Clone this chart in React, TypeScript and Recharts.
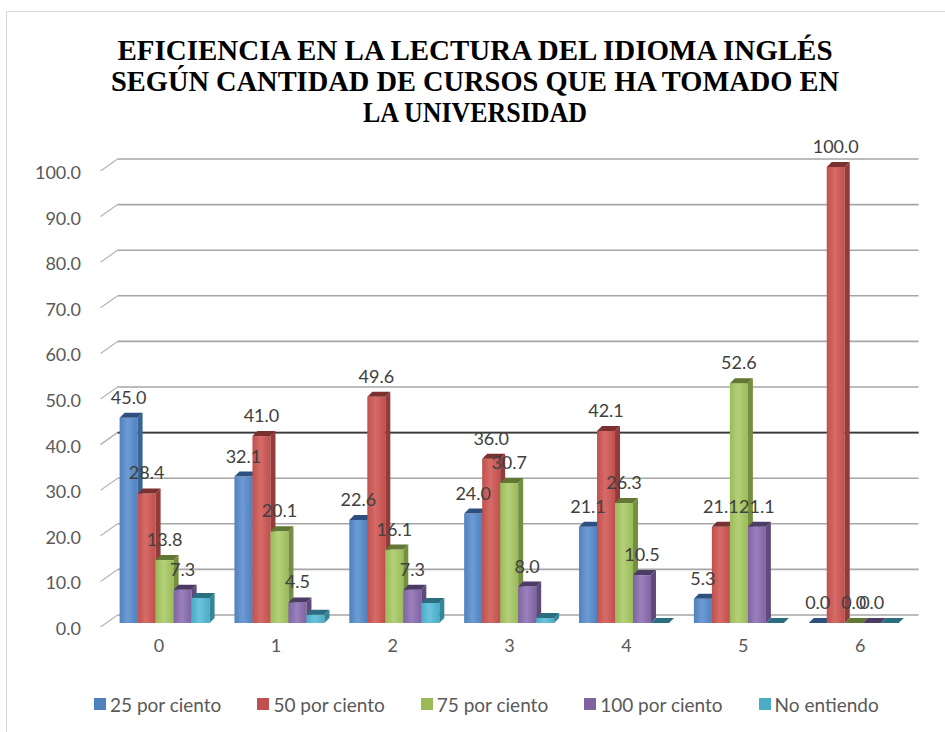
import React from 'react';
import { BarChart, Bar, XAxis, YAxis, CartesianGrid, LabelList } from 'recharts';

const categories = ['0', '1', '2', '3', '4', '5', '6'];
const s25 = [45.0, 32.1, 22.6, 24.0, 21.1, 5.3, 0.0];
const s50 = [28.4, 41.0, 49.6, 36.0, 42.1, 21.1, 100.0];
const s75 = [13.8, 20.1, 16.1, 30.7, 26.3, 52.6, 0.0];
const s100 = [7.3, 4.5, 7.3, 8.0, 10.5, 21.1, 0.0];
const sNo = [5.5, 1.8, 4.4, 1.1, 0.0, 0.0, 0.0];
const seriesNames = ['25 por ciento', '50 por ciento', '75 por ciento', '100 por ciento', 'No entiendo'];
const yTicks = [0, 10, 20, 30, 40, 50, 60, 70, 80, 90, 100];
const titleLines = [
  'EFICIENCIA EN LA LECTURA DEL IDIOMA INGLÉS',
  'SEGÚN CANTIDAD DE CURSOS QUE HA TOMADO EN',
  'LA UNIVERSIDAD',
];
const titleWidths = [715, 728, 224];

const seriesValues = [s25, s50, s75, s100, sNo];
const seriesKeys = ['p25', 'p50', 'p75', 'p100', 'none'];
const seriesStyle = [
  { front: '#4f81bd', light: '#6e9bd4', side: '#3a6396', top: '#2d5080' },
  { front: '#c0504d', light: '#d66b68', side: '#923c3a', top: '#7a302e' },
  { front: '#9bbb59', light: '#b4d079', side: '#758f40', top: '#617733' },
  { front: '#8064a2', light: '#9a80bd', side: '#5f4a7b', top: '#4c3b64' },
  { front: '#4bacc6', light: '#6cc4dc', side: '#35859b', top: '#2b6e80' },
];
const labelled = [true, true, true, true, false];

const data = categories.map((c, i) => {
  const row: any = { cat: c };
  seriesKeys.forEach((k, j) => {
    row[k] = seriesValues[j][i];
  });
  return row;
});

const FONT = 'Lato, "Open Sans", sans-serif';
const SERIF = '"Liberation Serif", "Times New Roman", Times, Tinos, "Noto Serif", "DejaVu Serif", FreeSerif, serif';
const DEPTH = 5;
const PLOT_BOTTOM = 623;

const make3D = (j: number) => (props: any) => {
  const { x, y, width } = props;
  const h = Math.max(props.height || 0, 0);
  const w = width;
  const d = DEPTH;
  const st = seriesStyle[j];
  return (
    <g>
      <rect x={x} y={y} width={w} height={h} fill={`url(#grad-${j})`} />
      <polygon
        points={`${x + w},${y} ${x + w + d},${y - d} ${x + w + d},${y + h - d} ${x + w},${y + h}`}
        fill={st.side}
      />
      <polygon points={`${x},${y} ${x + d},${y - d} ${x + w + d},${y - d} ${x + w},${y}`} fill={st.top} />
    </g>
  );
};

const gridLine = (stroke: string, sw: number) => (props: any) => {
  const { x1, x2, y1, index } = props;
  const yb = y1 - 8;
  return (
    <g key={`gl-${stroke}-${index}-${y1}`}>
      <line x1={x1 - 7} y1={y1 + 4} x2={x1 + 10} y2={yb} stroke="#b5b5b5" strokeWidth={1.2} />
      <line x1={x1 + 10} y1={yb} x2={x2 + 7} y2={yb} stroke={stroke} strokeWidth={sw} />
    </g>
  );
};

const YTick = (props: any) => {
  const { y, payload } = props;
  return (
    <text x={81} y={y + 12} textAnchor="end" fontSize={18} fill="#595959" style={{ fontFamily: FONT }}>
      {Number(payload.value).toFixed(1)}
    </text>
  );
};

const XTick = (props: any) => {
  const { x, payload, index } = props;
  return (
    <text x={x - 6 + index * 2} y={PLOT_BOTTOM + 29} textAnchor="middle" fontSize={18} fill="#595959" style={{ fontFamily: FONT }}>
      {payload.value}
    </text>
  );
};

const DataLabel = (props: any) => {
  const { x, y, width, value } = props;
  return (
    <text x={x + width / 2} y={y - 14} textAnchor="middle" fontSize={18} fill="#404040" style={{ fontFamily: FONT }}>
      {Number(value).toFixed(1)}
    </text>
  );
};

export default function App() {
  return (
    <div
      style={{
        position: 'absolute',
        left: 0,
        top: 0,
        width: 945,
        height: 732,
        overflow: 'hidden',
        background: '#ffffff',
      }}
    >
      <div
        style={{
          position: 'absolute',
          left: 6,
          top: 11,
          width: 960,
          height: 760,
          border: '1px solid #d9d9d9',
        }}
      />
      <svg style={{ position: 'absolute', left: 0, top: 0 }} width={945} height={140}>
        {titleLines.map((t, i) => (
          <text
            key={t}
            x={475}
            y={60 + i * 31}
            textAnchor="middle"
            textLength={titleWidths[i]}
            lengthAdjust="spacingAndGlyphs"
            fontWeight="bold"
            fontSize={30}
            fill="#000"
            style={{ fontFamily: SERIF }}
          >
            {t}
          </text>
        ))}
      </svg>
      <div style={{ position: 'absolute', left: 0, top: 0 }}>
        <BarChart
          width={945}
          height={732}
          data={data}
          margin={{ top: 167, right: 33.4, bottom: 79, left: 17.6 }}
          barGap={0}
          barSize={18}
        >
          <defs>
            {seriesStyle.map((st, j) => (
              <linearGradient key={j} id={`grad-${j}`} x1="0" y1="0" x2="1" y2="0">
                <stop offset="0%" stopColor={st.front} />
                <stop offset="45%" stopColor={st.light} />
                <stop offset="100%" stopColor={st.front} />
              </linearGradient>
            ))}
          </defs>
          <CartesianGrid vertical={false} horizontal={gridLine('#a6a6a6', 1.6)} />
          <CartesianGrid vertical={false} horizontalValues={[40]} horizontal={gridLine('#3a3a3a', 1.6)} />
          <XAxis dataKey="cat" axisLine={false} tickLine={false} height={30} tick={<XTick />} interval={0} />
          <YAxis
            domain={[0, 100]}
            ticks={yTicks}
            axisLine={false}
            tickLine={false}
            width={90}
            interval={0}
            tick={<YTick />}
          />
          {seriesKeys.map((k, j) => (
            <Bar key={k} dataKey={k} name={seriesNames[j]} fill={seriesStyle[j].front} shape={make3D(j)} isAnimationActive={false}>
              {labelled[j] ? <LabelList dataKey={k} content={<DataLabel />} /> : null}
            </Bar>
          ))}
        </BarChart>
      </div>
      <div
        style={{
          position: 'absolute',
          left: 94,
          top: 690,
          display: 'flex',
          alignItems: 'center',
          height: 28,
          fontFamily: FONT,
          fontSize: 19,
          color: '#595959',
        }}
      >
        {seriesNames.map((n, j) => (
          <div key={n} style={{ display: 'flex', alignItems: 'center', marginRight: 36 }}>
            <div style={{ width: 12, height: 12, background: seriesStyle[j].front, marginRight: 4 }} />
            <span>{n}</span>
          </div>
        ))}
      </div>
    </div>
  );
}
